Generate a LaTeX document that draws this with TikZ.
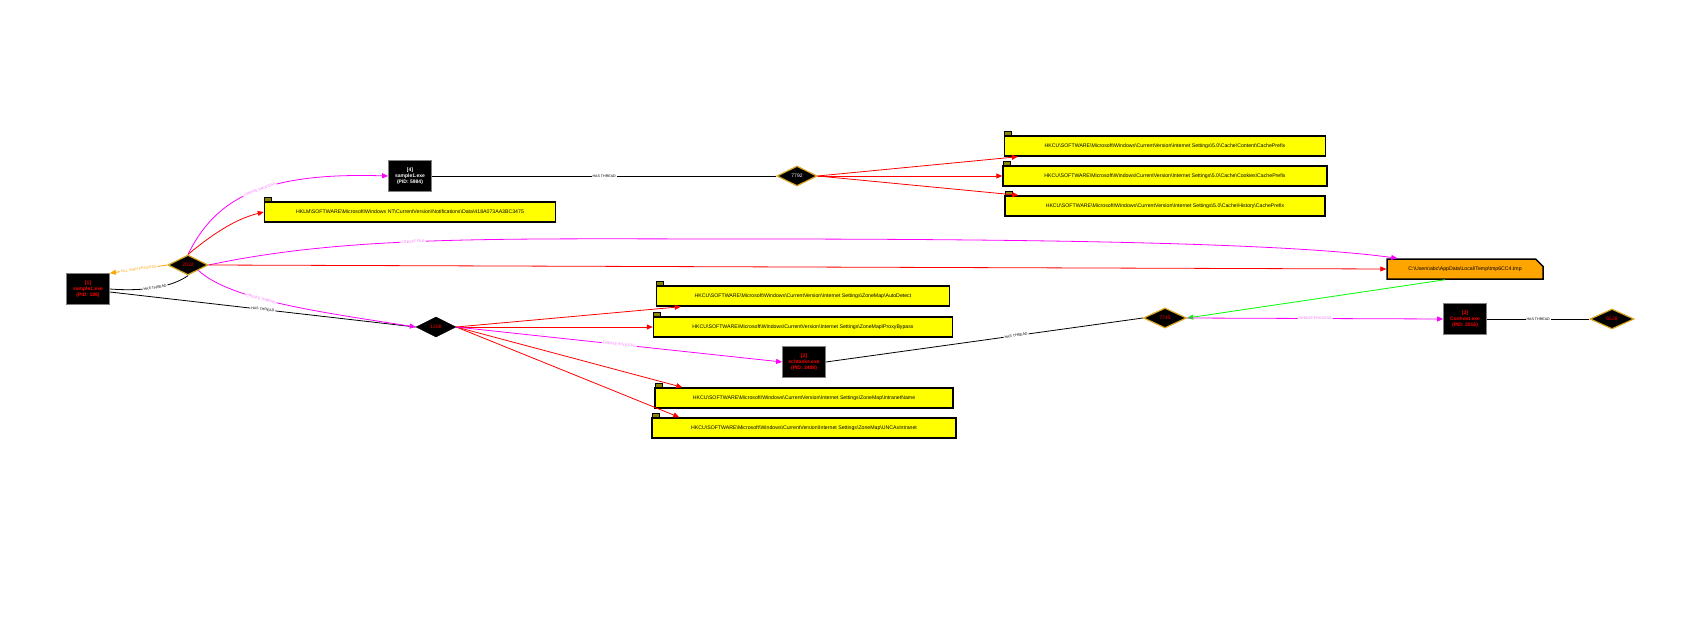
\documentclass[tikz,border=0pt]{standalone}
\usepackage{fontspec}
\setmainfont{Liberation Sans}
\usetikzlibrary{arrows.meta,shapes.geometric,shapes.misc}
\newcommand\bsl{\textbackslash}
\definecolor{yel}{RGB}{255,255,0}
\definecolor{orng}{RGB}{255,165,0}
\definecolor{mgt}{RGB}{255,0,255}
\definecolor{lmgt}{RGB}{255,110,255}
\definecolor{grn}{RGB}{0,255,0}
\definecolor{rd}{RGB}{255,0,0}
\definecolor{gold}{RGB}{218,165,32}
\begin{document}
\begin{tikzpicture}[x=1pt,y=-1pt,
 proc/.style={draw=gray,line width=0.8pt,fill=black,align=center,font=\fontsize{5}{6}\selectfont\bfseries,minimum width=43pt,minimum height=31pt,inner sep=1pt},
 thr/.style={diamond,draw=gold,line width=1.2pt,fill=black,font=\fontsize{5}{6}\selectfont,minimum width=40pt,minimum height=20pt,inner sep=0pt,aspect=2},
 reg/.style={draw=black,line width=1.5pt,fill=yel,font=\fontsize{5.2}{6}\selectfont,minimum height=20pt,inner sep=1pt},
 lbl/.style={fill=white,font=\fontsize{3.6}{4}\selectfont,inner sep=1pt,sloped},
 tip/.style={-{Triangle[length=6pt,width=5pt]}},
 red/.style={draw=rd,line width=0.8pt,tip},
 mag/.style={draw=mgt,line width=0.8pt,tip},
 blk/.style={draw=black,line width=0.8pt}]
\useasboundingbox (0,0) rectangle (1702,623);
% processes
\node[proc,text=rd] (p1) at (88,289) {[1]\\sample1.exe\\(PID: 188)};
\node[proc,text=white] (p4) at (410,176) {[4]\\sample1.exe\\(PID: 5984)};
\node[proc,text=rd] (p2) at (804,362) {[2]\\schtasks.exe\\(PID: 3408)};
\node[proc,text=rd] (p3) at (1465,319) {[3]\\Conhost.exe\\(PID: 2016)};
% threads
\node[thr,text=rd] (t2032) at (188,265) {2032};
\node[thr,text=white] (t7792) at (797,176) {7792};
\node[thr,text=rd,draw=black,line width=0.5pt] (t1208) at (436,327) {1208};
\node[thr,text=rd,minimum width=43pt] (t7745) at (1165,318) {7745};
\node[thr,text=rd,minimum width=44pt] (t6528) at (1612,319) {6528};
% registry
\node[reg,minimum width=291pt] (hklm) at (410,212) {HKLM\bsl SOFTWARE\bsl Microsoft\bsl Windows NT\bsl CurrentVersion\bsl Notifications\bsl Data\bsl 418A073AA3BC3475};
\node[reg,minimum width=321pt] (c1) at (1165,146) {HKCU\bsl SOFTWARE\bsl Microsoft\bsl Windows\bsl CurrentVersion\bsl Internet Settings\bsl 5.0\bsl Cache\bsl Content\bsl CachePrefix};
\node[reg,minimum width=324pt] (c2) at (1165,176) {HKCU\bsl SOFTWARE\bsl Microsoft\bsl Windows\bsl CurrentVersion\bsl Internet Settings\bsl 5.0\bsl Cache\bsl Cookies\bsl CachePrefix};
\node[reg,minimum width=320pt] (c3) at (1165,206) {HKCU\bsl SOFTWARE\bsl Microsoft\bsl Windows\bsl CurrentVersion\bsl Internet Settings\bsl 5.0\bsl Cache\bsl History\bsl CachePrefix};
\node[reg,minimum width=293pt] (z1) at (803,296) {HKCU\bsl SOFTWARE\bsl Microsoft\bsl Windows\bsl CurrentVersion\bsl Internet Settings\bsl ZoneMap\bsl AutoDetect};
\node[reg,minimum width=299pt] (z2) at (803,327) {HKCU\bsl SOFTWARE\bsl Microsoft\bsl Windows\bsl CurrentVersion\bsl Internet Settings\bsl ZoneMap\bsl ProxyBypass};
\node[reg,minimum width=298pt] (z3) at (804,398) {HKCU\bsl SOFTWARE\bsl Microsoft\bsl Windows\bsl CurrentVersion\bsl Internet Settings\bsl ZoneMap\bsl IntranetName};
\node[reg,minimum width=304pt] (z4) at (804,428) {HKCU\bsl SOFTWARE\bsl Microsoft\bsl Windows\bsl CurrentVersion\bsl Internet Settings\bsl ZoneMap\bsl UNCAsIntranet};
\foreach \r in {hklm,c1,c2,c3,z1,z2,z3,z4}{
 \draw[fill=olive,line width=0.8pt] ([xshift=1pt]\r.north west) rectangle ++(7,-4);}
% file
\node[draw=black,line width=1.5pt,fill=orng,font=\fontsize{5.2}{6}\selectfont,minimum width=156pt,minimum height=20pt,inner sep=1pt,chamfered rectangle,chamfered rectangle corners=north east,chamfered rectangle xsep=4pt,chamfered rectangle ysep=4pt] (f) at (1465,269) {C:\bsl Users\bsl abc\bsl AppData\bsl Local\bsl Temp\bsl tmp6CC4.tmp};
% edges
\draw[mag] (t2032.north) .. controls (215,200) and (260,172) .. node[lbl,pos=0.55,text=lmgt] {CREATE PROCESS} (p4.west);
\draw[red] (t2032.north) .. controls (220,228) and (240,218) .. (hklm.west);
\draw[blk] (p4.east) -- node[lbl] {HAS THREAD} (t7792.west);
\draw[red] (t7792.east) -- ([xshift=14pt]c1.south west);
\draw[red] (t7792.east) -- (c2.west);
\draw[red] (t7792.east) -- ([xshift=14pt]c3.north west);
\draw[mag] (t2032.east) .. controls (350,235) and (500,239) .. node[lbl,pos=0.45,text=lmgt] {CREATE FILE} (750,239) .. controls (1100,239) and (1300,245) .. ([xshift=11pt]f.north west);
\draw[red] (t2032.east) -- (f.west);
\draw[draw=orng,line width=0.8pt,tip] (t2032.west) -- node[lbl,text=orng] {KILL OWN PROCESS} (p1.north east);
\draw[blk] (p1.east) .. controls (150,292) and (175,285) .. node[lbl,pos=0.45] {HAS THREAD} (t2032.south);
\draw[blk] ([yshift=-3pt]p1.east) -- node[lbl,pos=0.5] {HAS THREAD} (t1208.west);
\draw[mag] (t2032.south east) .. controls (230,300) and (320,312) .. node[lbl,pos=0.4,text=lmgt] {CREATE THREAD} (t1208.west);
\draw[red] (t1208.east) -- ([xshift=25pt]z1.south west);
\draw[red] (t1208.east) -- (z2.west);
\draw[red] (t1208.east) -- ([xshift=28pt]z3.north west);
\draw[red] (t1208.east) -- ([xshift=28pt]z4.north west);
\draw[mag] (t1208.east) -- node[lbl,text=lmgt] {CREATE PROCESS} (p2.west);
\draw[blk] (p2.east) -- node[lbl,pos=0.6] {HAS THREAD} (t7745.west);
\draw[draw=grn,line width=0.8pt,tip] ([xshift=-20pt]f.south) -- (t7745.east);
\draw[mag] (t7745.east) -- node[lbl,text=lmgt] {CREATE PROCESS} (p3.west);
\draw[blk] (p3.east) -- node[lbl] {HAS THREAD} (t6528.west);
\end{tikzpicture}
\end{document}
